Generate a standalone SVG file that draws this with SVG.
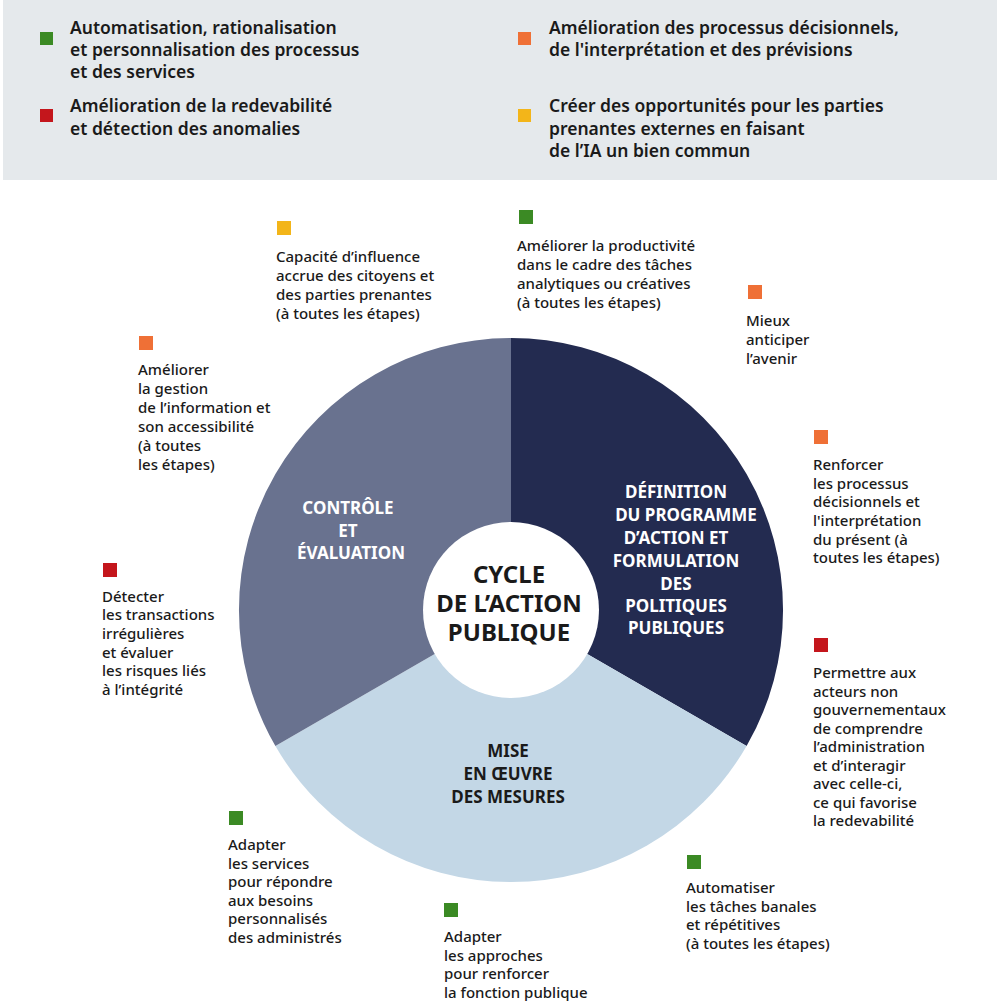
<svg xmlns="http://www.w3.org/2000/svg" width="1000" height="1007" viewBox="0 0 1000 1007">
<style>
text{font-family:"Noto Sans","Open Sans",sans-serif;fill:#1a1a1a}
.h{font-size:17.5px;font-weight:600}
.b{font-size:15px;font-weight:500}
.s{font-size:17px;font-weight:700;fill:#fff;text-anchor:middle}
.c{font-size:24px;font-weight:700;text-anchor:middle}
.g{fill:#3b8a24}.o{fill:#ef7036}.r{fill:#c4161c}.y{fill:#f3b519}
</style>
<rect x="0" y="0" width="1000" height="1007" fill="#fff"/>
<g id="legend">
<rect x="3" y="0" width="994" height="180" fill="#e5e9ec"/>
<rect class="g" x="40" y="32" width="13" height="13"/>
<text class="h"><tspan x="70" y="34">Automatisation, rationalisation</tspan><tspan x="70" y="56">et personnalisation des processus</tspan><tspan x="70" y="78">et des services</tspan></text>
<rect class="r" x="40" y="109" width="13" height="13"/>
<text class="h"><tspan x="70" y="112">Amélioration de la redevabilité</tspan><tspan x="70" y="135">et détection des anomalies</tspan></text>
<rect class="o" x="518" y="32" width="13" height="13"/>
<text class="h"><tspan x="549" y="34">Amélioration des processus décisionnels,</tspan><tspan x="549" y="56">de l'interprétation et des prévisions</tspan></text>
<rect class="y" x="518" y="109" width="13" height="13"/>
<text class="h"><tspan x="549" y="112">Créer des opportunités pour les parties</tspan><tspan x="549" y="135">prenantes externes en faisant</tspan><tspan x="549" y="157">de l’IA un bien commun</tspan></text>
</g>
<g id="cycle">
<path d="M511,610 L511,338 A272,272 0 0 1 746.6,746 Z" fill="#232b50"/>
<path d="M511,610 L746.6,746 A272,272 0 0 1 275.4,746 Z" fill="#c3d7e6"/>
<path d="M511,610 L275.4,746 A272,272 0 0 1 511,338 Z" fill="#69728f"/>
<circle cx="511" cy="610" r="88" fill="#fff"/>
<text class="c"><tspan x="509" y="583">CYCLE</tspan><tspan x="509" y="612">DE L’ACTION</tspan><tspan x="509" y="641">PUBLIQUE</tspan></text>
<text class="s"><tspan x="676" y="498">DÉFINITION</tspan><tspan x="686" y="521">DU PROGRAMME</tspan><tspan x="676" y="544">D’ACTION ET</tspan><tspan x="676" y="567">FORMULATION</tspan><tspan x="676" y="590">DES</tspan><tspan x="676" y="612">POLITIQUES</tspan><tspan x="676" y="634">PUBLIQUES</tspan></text>
<text class="s"><tspan x="348" y="514">CONTRÔLE</tspan><tspan x="348" y="537">ET</tspan><tspan x="351" y="559">ÉVALUATION</tspan></text>
<text class="s" style="fill:#1a1a1a"><tspan x="508" y="757">MISE</tspan><tspan x="508" y="780">EN ŒUVRE</tspan><tspan x="508" y="803">DES MESURES</tspan></text>
</g>
<g id="notes">
<rect class="y" x="277" y="221" width="14" height="14"/>
<text class="b"><tspan x="276" y="262">Capacité d’influence</tspan><tspan x="276" y="281">accrue des citoyens et</tspan><tspan x="276" y="300">des parties prenantes</tspan><tspan x="276" y="319">(à toutes les étapes)</tspan></text>
<rect class="g" x="519" y="210" width="14" height="14"/>
<text class="b"><tspan x="517" y="251">Améliorer la productivité</tspan><tspan x="517" y="270">dans le cadre des tâches</tspan><tspan x="517" y="289">analytiques ou créatives</tspan><tspan x="517" y="308">(à toutes les étapes)</tspan></text>
<rect class="o" x="748" y="285" width="14" height="14"/>
<text class="b"><tspan x="746" y="326">Mieux</tspan><tspan x="746" y="345">anticiper</tspan><tspan x="746" y="364">l’avenir</tspan></text>
<rect class="o" x="139" y="336" width="14" height="14"/>
<text class="b"><tspan x="138" y="375">Améliorer</tspan><tspan x="138" y="394">la gestion</tspan><tspan x="138" y="413">de l’information et</tspan><tspan x="138" y="432">son accessibilité</tspan><tspan x="138" y="451">(à toutes</tspan><tspan x="138" y="470">les étapes)</tspan></text>
<rect class="o" x="814" y="430" width="14" height="14"/>
<text class="b"><tspan x="813" y="470">Renforcer</tspan><tspan x="813" y="489">les processus</tspan><tspan x="813" y="507">décisionnels et</tspan><tspan x="813" y="526">l'interprétation</tspan><tspan x="813" y="545">du présent (à</tspan><tspan x="813" y="563">toutes les étapes)</tspan></text>
<rect class="r" x="103" y="563" width="14" height="14"/>
<text class="b"><tspan x="102" y="602">Détecter</tspan><tspan x="102" y="620">les transactions</tspan><tspan x="102" y="639">irrégulières</tspan><tspan x="102" y="658">et évaluer</tspan><tspan x="102" y="676">les risques liés</tspan><tspan x="102" y="695">à l’intégrité</tspan></text>
<rect class="r" x="814" y="638" width="14" height="14"/>
<text class="b"><tspan x="813" y="678">Permettre aux</tspan><tspan x="813" y="697">acteurs non</tspan><tspan x="813" y="715">gouvernementaux</tspan><tspan x="813" y="734">de comprendre</tspan><tspan x="813" y="752">l’administration</tspan><tspan x="813" y="771">et d’interagir</tspan><tspan x="813" y="789">avec celle-ci,</tspan><tspan x="813" y="808">ce qui favorise</tspan><tspan x="813" y="826">la redevabilité</tspan></text>
<rect class="g" x="229" y="811" width="14" height="14"/>
<text class="b"><tspan x="228" y="850">Adapter</tspan><tspan x="228" y="869">les services</tspan><tspan x="228" y="887">pour répondre</tspan><tspan x="228" y="906">aux besoins</tspan><tspan x="228" y="924">personnalisés</tspan><tspan x="228" y="943">des administrés</tspan></text>
<rect class="g" x="687" y="855" width="14" height="14"/>
<text class="b"><tspan x="686" y="893">Automatiser</tspan><tspan x="686" y="912">les tâches banales</tspan><tspan x="686" y="930">et répétitives</tspan><tspan x="686" y="949">(à toutes les étapes)</tspan></text>
<rect class="g" x="444" y="903" width="14" height="14"/>
<text class="b"><tspan x="444" y="942">Adapter</tspan><tspan x="444" y="961">les approches</tspan><tspan x="444" y="979">pour renforcer</tspan><tspan x="444" y="998">la fonction publique</tspan></text>
</g>
</svg>
